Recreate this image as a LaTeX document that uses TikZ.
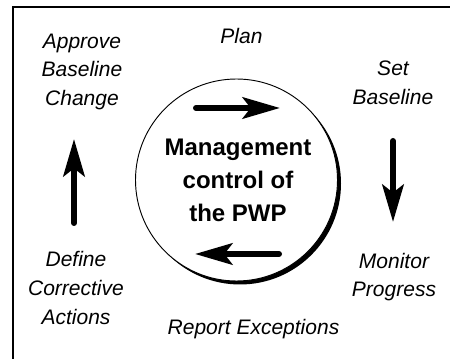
\documentclass[tikz,border=0pt]{standalone}
\usepackage{fontspec}
\setmainfont{Liberation Sans}
\usetikzlibrary{arrows.meta}
\begin{document}
\begin{tikzpicture}[x=0.75pt,y=-0.75pt,
  stage/.style={font=\fontsize{15.75}{21.4}\selectfont\itshape, align=center, inner sep=0pt},
  core/.style={font=\fontsize{18}{24.75}\selectfont\bfseries, align=center, inner sep=0pt},
  flow/.style={line width=4.5pt, line cap=round,
    -{Stealth[length=28pt, width=16pt, inset=6pt]}},
  frameline/.style={line width=1.5pt}]
\useasboundingbox (0,0) rectangle (450,359);

% frame (top and left edges)
\coordinate (fl) at (13,359);
\coordinate (fc) at (13,6.7);
\coordinate (fr) at (450,6.7);
\draw[frameline] (fl) -- (fc) -- (fr);

% central circle with offset shadow
\fill[black] (240,183.5) circle (101);
\node[circle, draw, fill=white, line width=0.7pt, minimum size=202pt*0.75, inner sep=0pt] (hub) at (236.5,180) {};
\node[core] (title) at (238,180) {Management\\control of\\the PWP};

% inner arrows
\coordinate (ta) at (196,108);
\coordinate (tb) at (280,108);
\draw[flow] (ta) -- (tb);
\coordinate (ba) at (279,254);
\coordinate (bb) at (195,254);
\draw[flow] (ba) -- (bb);

% stage labels
\node[stage] (plan) at (241.5,36) {Plan};
\node[stage] (setb) at (393,83) {Set\\Baseline};
\node[stage] (mon) at (394,277) {Monitor\\Progress};
\node[stage] (rep) at (253.5,329) {Report Exceptions};
\node[stage] (def) at (76,288) {Define\\Corrective\\Actions};
\node[stage] (appr) at (82,71.5) {Approve\\Baseline\\Change};

% side arrows
\coordinate (ra) at (393,141);
\coordinate (rb) at (393,222);
\draw[flow] (ra) -- (rb);
\coordinate (la) at (74,223);
\coordinate (lb) at (74,139);
\draw[flow] (la) -- (lb);
\end{tikzpicture}
\end{document}
